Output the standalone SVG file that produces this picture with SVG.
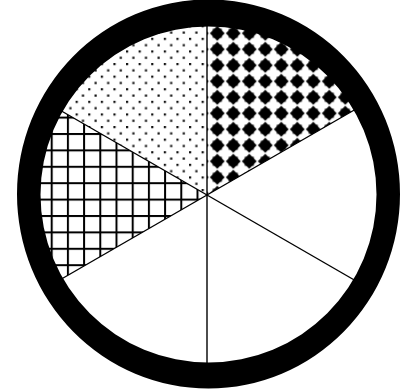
<svg xmlns="http://www.w3.org/2000/svg" width="404" height="391" viewBox="0 0 404 391">
  <defs>
    <pattern id="diamonds" patternUnits="userSpaceOnUse" x="209.3" y="25.3" width="16" height="16">
      <polygon points="8,0.6 15.4,8 8,15.4 0.6,8" fill="#000"/>
      <rect x="3.5" y="3.5" width="9" height="9" fill="#000"/>
    </pattern>
    <pattern id="dots" patternUnits="userSpaceOnUse" x="0" y="0" width="12.6" height="12.6">
      <rect x="0" y="0" width="2.2" height="2.2" fill="#111"/>
      <rect x="6.3" y="6.3" width="2.2" height="2.2" fill="#111"/>
    </pattern>
    <pattern id="grid" patternUnits="userSpaceOnUse" x="50.7" y="133" width="16.2" height="16.4">
      <rect x="0" y="0" width="2" height="16.4" fill="#000"/>
      <rect x="0" y="0" width="16.2" height="2" fill="#000"/>
    </pattern>
    <style>
      .spoke { stroke: #000; stroke-width: 1.4; fill: none; }
    </style>
  </defs>
  <rect width="404" height="391" fill="#fff"/>
  <g id="sectors">
    <path id="sector-diamonds" d="M207,195 L207,20 A175,175 0 0 1 358.6,107.5 Z" fill="url(#diamonds)"/>
    <path id="sector-dots" d="M207,195 L55.4,107.5 A175,175 0 0 1 207,20 Z" fill="url(#dots)"/>
    <path id="sector-grid" d="M207,195 L55.4,282.5 A175,175 0 0 1 55.4,107.5 Z" fill="url(#grid)"/>
  </g>
  <g id="spokes">
    <line class="spoke" x1="207" y1="195" x2="207" y2="20"/>
    <line class="spoke" x1="207" y1="195" x2="207" y2="375"/>
    <line class="spoke" x1="207" y1="195" x2="358.6" y2="107.5"/>
    <line class="spoke" x1="207" y1="195" x2="358.6" y2="282.5"/>
    <line class="spoke" x1="207" y1="195" x2="55.4" y2="107.5"/>
    <line class="spoke" x1="207" y1="195" x2="55.4" y2="282.5"/>
  </g>
  <g id="ring">
    <path fill="#000" fill-rule="evenodd" d="M17,194 A191.5,194.5 0 1 0 400,194 A191.5,194.5 0 1 0 17,194 Z M40.5,194.5 A168,168 0 1 0 376.5,194.5 A168,168 0 1 0 40.5,194.5 Z"/>
  </g>
</svg>
